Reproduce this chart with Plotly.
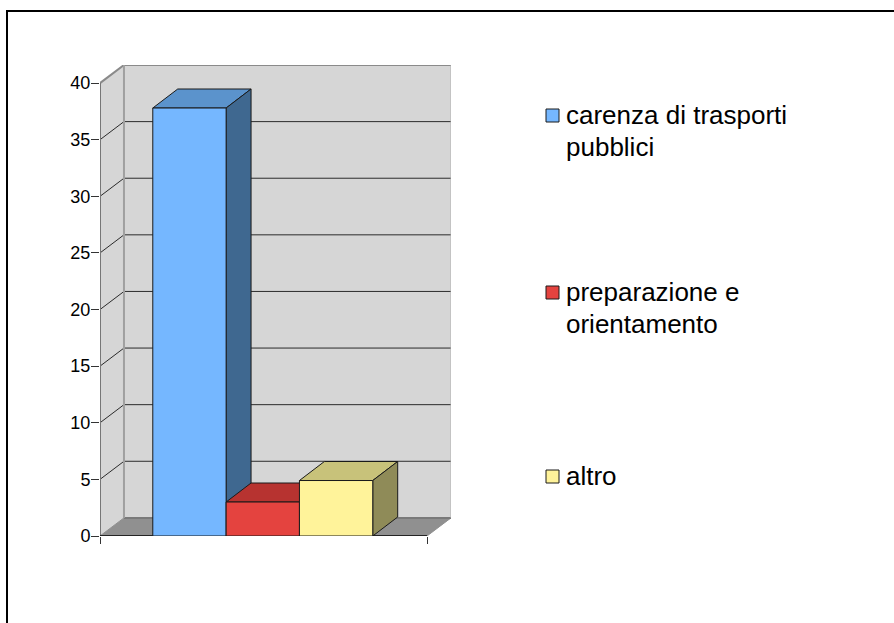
import plotly.graph_objects as go

# data
categories = ['carenza di trasporti<br>pubblici', 'preparazione e<br>orientamento', 'altro']
values = [37.8, 3.0, 4.9]
y_ticks = [0, 5, 10, 15, 20, 25, 30, 35, 40]

front_colors = ['#75b7ff', '#e4433f', '#fff39a']
top_colors = ['#5b93cc', '#b73330', '#c8c27a']
side_colors = ['#3f6890', '#8f2a28', '#8f8b58']
legend_y = [115, 292, 476]

# x unit is one bar width
X_END = 4.46
GAP = 0.72
WALL_DX, WALL_DY = 0.327, 1.6
BAR_DX, BAR_DY = 0.34, 1.68

LEFT, RIGHT, TOP, BOTTOM = 100, 451, 65, 536
FONT = 'Liberation Sans, Arial, sans-serif'


def px(x):
    return (x - LEFT) / (RIGHT - LEFT)


def py(y):
    return (BOTTOM - y) / (BOTTOM - TOP)


def poly(xs, ys, fill, line='#1a1a1a', width=1):
    return go.Scatter(x=xs + xs[:1], y=ys + ys[:1], mode='lines', fill='toself', fillcolor=fill,
                      line={'color': line, 'width': width}, cliponaxis=False,
                      hoverinfo='skip', showlegend=False)


def seg(xs, ys, color, width=1):
    return go.Scatter(x=xs, y=ys, mode='lines', line={'color': color, 'width': width}, cliponaxis=False,
                      hoverinfo='skip', showlegend=False)


fig = go.Figure()

# walls and floor
y_max = y_ticks[-1]
fig.add_trace(poly([WALL_DX, X_END + WALL_DX, X_END + WALL_DX, WALL_DX],
                   [WALL_DY, WALL_DY, y_max + WALL_DY, y_max + WALL_DY], '#d6d6d6', '#d6d6d6'))
fig.add_trace(poly([0, WALL_DX, WALL_DX, 0], [0, WALL_DY, y_max + WALL_DY, y_max], '#d6d6d6', '#d6d6d6'))
fig.add_trace(poly([0, X_END, X_END + WALL_DX, WALL_DX], [0, 0, WALL_DY, WALL_DY], '#909090', '#909090'))

# grid lines run along the side wall and the back wall
for tick in y_ticks[1:-1]:
    fig.add_trace(seg([0, WALL_DX, X_END + WALL_DX], [tick, tick + WALL_DY, tick + WALL_DY], '#2b2b2b'))
fig.add_trace(seg([0, WALL_DX, X_END + WALL_DX], [y_max, y_max + WALL_DY, y_max + WALL_DY], '#8a8a8a', 2))
fig.add_trace(seg([WALL_DX, X_END + WALL_DX], [WALL_DY, WALL_DY], '#7a7a7a', 2))
fig.add_trace(seg([WALL_DX, WALL_DX], [WALL_DY, y_max + WALL_DY], '#a0a0a0', 2))
fig.add_trace(seg([X_END + WALL_DX, X_END + WALL_DX], [WALL_DY, y_max + WALL_DY], '#b0b0b0'))

# front axis lines
fig.add_trace(seg([0, 0], [0, y_max], '#777777', 2))
fig.add_trace(seg([0, X_END], [0, 0], '#000000', 1.5))

# bars: top, side, front
for i, value in enumerate(values):
    x0, x1 = GAP + i, GAP + i + 1
    fig.add_trace(poly([x0, x1, x1 + BAR_DX, x0 + BAR_DX], [value, value, value + BAR_DY, value + BAR_DY], top_colors[i]))
    fig.add_trace(poly([x1, x1 + BAR_DX, x1 + BAR_DX, x1], [0, BAR_DY, value + BAR_DY, value], side_colors[i]))
    fig.add_trace(poly([x0, x1, x1, x0], [0, 0, value, value], front_colors[i]))

shapes = []
annotations = []
for name, color, y in zip(categories, front_colors, legend_y):
    shapes.append({'type': 'rect', 'xref': 'paper', 'yref': 'paper',
                   'x0': px(546), 'x1': px(559), 'y0': py(y + 7), 'y1': py(y - 6),
                   'fillcolor': color, 'line': {'color': '#1a1a1a', 'width': 1}})
    # legend lines sit closer than plotly's own line height, so each gets its own annotation
    for j, text in enumerate(name.split('<br>')):
        annotations.append({'text': text, 'xref': 'paper', 'yref': 'paper', 'x': px(564), 'y': py(y + 32 * j),
                            'xanchor': 'left', 'yanchor': 'middle', 'align': 'left', 'showarrow': False,
                            'font': {'family': FONT, 'size': 26, 'color': '#000000'}})

# outer frame, cut off by the picture on the right and at the bottom
shapes.append({'type': 'line', 'xref': 'paper', 'yref': 'paper', 'x0': px(7), 'x1': px(7), 'y0': py(623), 'y1': py(11),
               'line': {'color': '#000000', 'width': 2}})
shapes.append({'type': 'line', 'xref': 'paper', 'yref': 'paper', 'x0': px(6), 'x1': px(894), 'y0': py(11), 'y1': py(11),
               'line': {'color': '#000000', 'width': 2}})

fig.update_layout(
    width=894, height=623,
    margin={'l': LEFT, 'r': 894 - RIGHT, 't': TOP, 'b': 623 - BOTTOM},
    paper_bgcolor='white', plot_bgcolor='rgba(0,0,0,0)',
    font={'family': FONT, 'size': 18, 'color': '#000000'},
    showlegend=False, shapes=shapes, annotations=annotations,
    xaxis={'range': [0, X_END + WALL_DX], 'tickvals': [0, X_END], 'ticktext': ['', ''], 'ticks': 'outside', 'ticklen': 7,
           'tickcolor': '#333333', 'showgrid': False, 'zeroline': False, 'showline': False},
    yaxis={'range': [0, y_max + WALL_DY], 'tickvals': y_ticks, 'ticks': 'outside', 'ticklen': 8, 'tickcolor': '#333333',
           'ticklabelstandoff': -3, 'showgrid': False, 'zeroline': False, 'showline': False},
)

fig.write_html('out.html', config={'displayModeBar': False}, post_script='document.body.style.margin = 0;')
